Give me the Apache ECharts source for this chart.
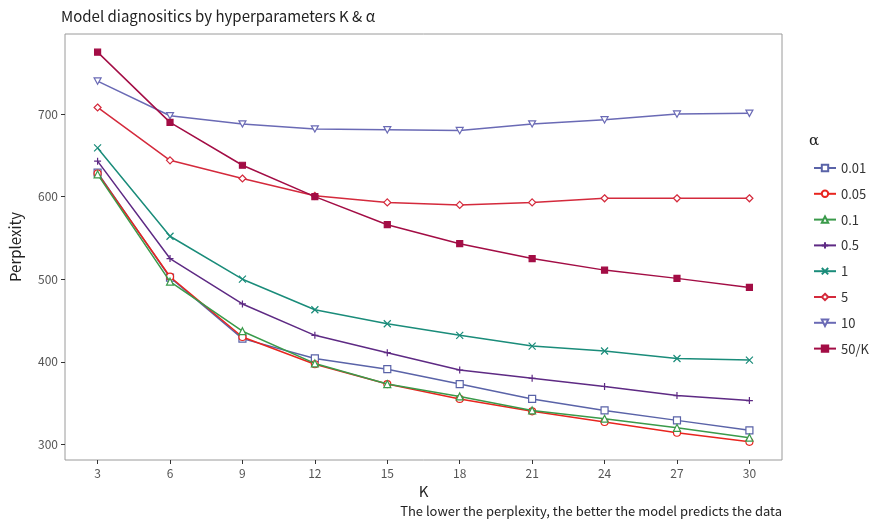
<!DOCTYPE html>
<html>
<head>
<meta charset="utf-8">
<script src="https://cdn.jsdelivr.net/npm/echarts@6/dist/echarts.min.js"></script>
<style>html,body{margin:0;padding:0;background:#fff}#c{width:871px;height:523px}</style>
</head>
<body>
<div id="c"></div>
<script>
const K = [3, 6, 9, 12, 15, 18, 21, 24, 27, 30];
const seriesNames = ['0.01', '0.05', '0.1', '0.5', '1', '5', '10', '50/K'];
const a001 = [629, 502, 428, 404, 391, 373, 355, 341, 329, 317];
const a005 = [628, 503, 430, 397, 373, 355, 340, 327, 314, 303];
const a01  = [627, 497, 437, 398, 373, 358, 341, 331, 320, 308];
const a05  = [643, 525, 470, 432, 411, 390, 380, 370, 359, 353];
const a1   = [659, 552, 500, 463, 446, 432, 419, 413, 404, 402];
const a5   = [708, 644, 622, 601, 593, 590, 593, 598, 598, 598];
const a10  = [740, 698, 688, 682, 681, 680, 688, 693, 700, 701];
const a50K = [775, 690, 638, 600, 566, 543, 525, 511, 501, 490];
const yTicks = [300, 400, 500, 600, 700];
const xTicks = [3, 6, 9, 12, 15, 18, 21, 24, 27, 30];

const values = [a001, a005, a01, a05, a1, a5, a10, a50K];
const colors = ['#5A63A8', '#E8251F', '#3A9A4A', '#5E2A84', '#1A8C7A', '#D42A3C', '#6A6AB5', '#A30D45'];
const symbols = [
  'rect', 'circle', 'triangle',
  'path://M5,0L5,10M0,5L10,5',
  'path://M0,0L10,10M0,10L10,0',
  'diamond',
  'path://M0,0L10,0L5,9Z',
  'rect'
];
const filled = [false, false, false, false, false, false, false, true];
const font = '"Noto Sans CJK KR", "Noto Sans", sans-serif';

const series = seriesNames.map((n, i) => ({
  name: n,
  type: 'line',
  data: K.map((k, j) => [k, values[i][j]]),
  symbol: symbols[i],
  symbolSize: i === 7 ? 6 : 7,
  symbolKeepAspect: true,
  showSymbol: true,
  lineStyle: { color: colors[i], width: 1.5 },
  itemStyle: {
    color: filled[i] ? colors[i] : '#fff',
    borderColor: colors[i],
    borderWidth: 1.2
  },
  z: 2 + i,
  animation: false
}));

const chart = echarts.init(document.getElementById('c'));
chart.setOption({
  animation: false,
  backgroundColor: '#fff',
  title: {
    text: 'Model diagnositics by hyperparameters K & α',
    left: 56, top: 4,
    textStyle: { fontFamily: font, fontSize: 15, fontWeight: 'normal', color: '#222' }
  },
  grid: {
    left: 59, right: 89, top: 34, bottom: 63,
    show: true, borderColor: '#9a9a9a', borderWidth: 1, backgroundColor: '#fff'
  },
  xAxis: {
    type: 'value', min: 1.65, max: 31.35,
    name: 'K', nameLocation: 'middle', nameGap: 24,
    nameTextStyle: { fontFamily: font, fontSize: 15, color: '#222' },
    axisLine: { show: false },
    splitLine: { show: false },
    axisTick: { show: true, length: 4, customValues: xTicks, lineStyle: { color: '#333' } },
    axisLabel: { customValues: xTicks, fontFamily: font, fontSize: 12, color: '#555', margin: 7 }
  },
  yAxis: {
    type: 'value', min: 281, max: 797,
    name: 'Perplexity', nameLocation: 'middle', nameGap: 42,
    nameTextStyle: { fontFamily: font, fontSize: 15, color: '#222' },
    axisLine: { show: false },
    splitLine: { show: false },
    axisTick: { show: true, length: 4, customValues: yTicks, lineStyle: { color: '#333' } },
    axisLabel: { customValues: yTicks, fontFamily: font, fontSize: 12, color: '#555', margin: 7 }
  },
  legend: {
    orient: 'vertical', left: 808, top: 156,
    itemWidth: 22, itemHeight: 8, itemGap: 11.8,
    data: seriesNames,
    textStyle: { fontFamily: font, fontSize: 13, color: '#333', lineHeight: 14 }
  },
  graphic: [
    { type: 'text', left: 809, top: 134,
      style: { text: 'α', font: '15px "DejaVu Serif", serif', fill: '#222' } },
    { type: 'text', right: 89, top: 505,
      style: { text: 'The lower the perplexity, the better the model predicts the data',
               font: '13px ' + font, fill: '#222', textAlign: 'right' } }
  ],
  series: series
});
</script>
</body>
</html>
